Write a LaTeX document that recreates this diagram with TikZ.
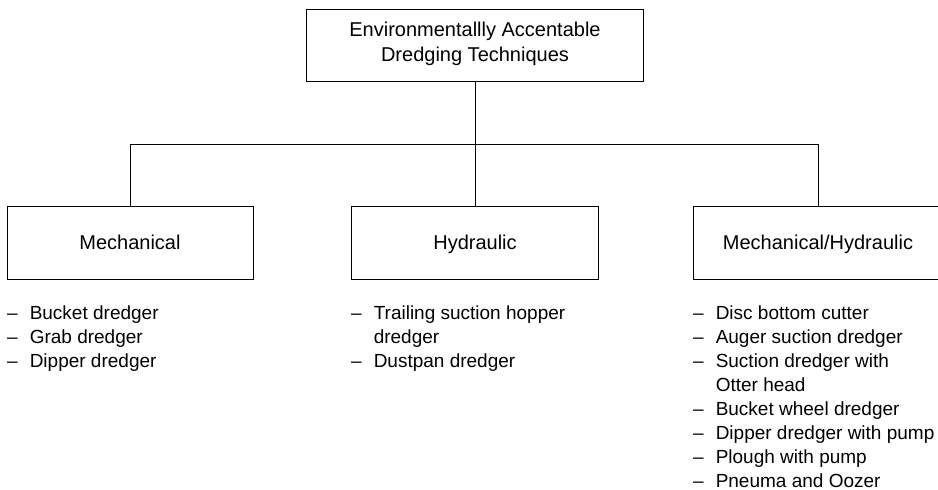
\documentclass[tikz,border=0pt]{standalone}
\usepackage{fontspec}
\setmainfont{Liberation Sans}
\begin{document}
\begin{tikzpicture}[x=1pt,y=1pt,
  catbox/.style={draw, line width=1pt, inner sep=0pt, align=center,
    font=\fontsize{20}{25}\selectfont},
  itemlist/.style={inner sep=0pt, anchor=base west,
    font=\fontsize{19}{24}\selectfont},
  link/.style={line width=1pt}]
\useasboundingbox (0,0) rectangle (938,-490);

% root
\node[catbox, minimum width=337pt, minimum height=72pt, text depth=8pt]
  (root) at (475,-45.5) {Environmentallly Accentable\\Dredging Techniques};

% categories
\node[catbox, minimum width=246pt, minimum height=73pt, text height=14.5pt, text depth=0pt]
  (mech) at (130,-242.5) {Mechanical};
\node[catbox, minimum width=247pt, minimum height=73pt, text height=14.5pt, text depth=0pt]
  (hyd) at (475,-242.5) {Hydraulic};
\node[catbox, minimum width=250pt, minimum height=73pt, text height=14.5pt, text depth=0pt]
  (mh) at (818,-242.5) {Mechanical/Hydraulic};

% connectors
\coordinate (bus) at (0,-144);
\draw[link] (root.south) -- (hyd.north);
\draw[link] (mech.north) -- (mech.north |- bus) -- (mh.north |- bus) -- (mh.north);

% technique lists
\node[itemlist] (mechlist) at (7,-319.5) {%
  \begin{tabular}[t]{@{}l@{\hspace{12pt}}l@{}}
  -- & Bucket dredger\\
  -- & Grab dredger\\
  -- & Dipper dredger
  \end{tabular}};
\node[itemlist] (hydlist) at (351,-319.5) {%
  \begin{tabular}[t]{@{}l@{\hspace{12pt}}l@{}}
  -- & Trailing suction hopper\\
     & dredger\\
  -- & Dustpan dredger
  \end{tabular}};
\node[itemlist] (mhlist) at (693,-319.5) {%
  \begin{tabular}[t]{@{}l@{\hspace{12pt}}l@{}}
  -- & Disc bottom cutter\\
  -- & Auger suction dredger\\
  -- & Suction dredger with\\
     & Otter head\\
  -- & Bucket wheel dredger\\
  -- & Dipper dredger with pump\\
  -- & Plough with pump\\
  -- & Pneuma and Oozer
  \end{tabular}};
\end{tikzpicture}
\end{document}
